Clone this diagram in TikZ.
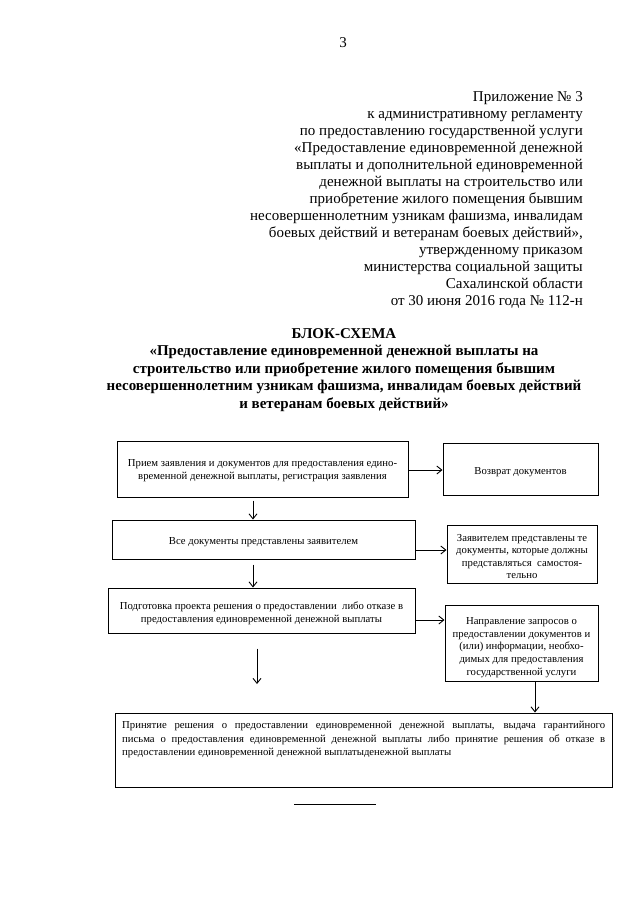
\documentclass[tikz,border=0pt]{standalone}
\usepackage{fontspec}
\setmainfont{Liberation Serif}
\usetikzlibrary{arrows.meta}
\begin{document}
\begin{tikzpicture}[x=1pt,y=-1pt,
  hdr/.style={anchor=base east,inner sep=0pt,font=\fontsize{15}{17}\selectfont},
  ttl/.style={anchor=base,inner sep=0pt,font=\fontsize{15}{17.5}\selectfont\bfseries},
  box/.style={draw,line width=1pt,inner sep=0pt},
  btxt/.style={inner sep=0pt,align=center,font=\fontsize{10.7}{13}\selectfont},
  arr/.style={line width=0.9pt,-{Straight Barb[length=5pt,width=8pt]}}]
\path[fill=white] (0,0) rectangle (640,905);
\useasboundingbox (0,0) rectangle (640,905);
% page number
\node[anchor=base,inner sep=0pt,font=\fontsize{15}{17}\selectfont] (pg) at (343,47) {3};
% header
\node[hdr] (h1) at (583,101) {Приложение № 3};
\node[hdr] (h2) at (583,118) {к административному регламенту};
\node[hdr] (h3) at (583,135) {по предоставлению государственной услуги};
\node[hdr] (h4) at (583,152) {«Предоставление единовременной денежной};
\node[hdr] (h5) at (583,169) {выплаты и дополнительной единовременной};
\node[hdr] (h6) at (583,186) {денежной выплаты на строительство или};
\node[hdr] (h7) at (583,203) {приобретение жилого помещения бывшим};
\node[hdr] (h8) at (583,220) {несовершеннолетним узникам фашизма, инвалидам};
\node[hdr] (h9) at (583,237) {боевых действий и ветеранам боевых действий»,};
\node[hdr] (h10) at (583,254) {утвержденному приказом};
\node[hdr] (h11) at (583,271) {министерства социальной защиты};
\node[hdr] (h12) at (583,288) {Сахалинской области};
\node[hdr] (h13) at (583,305) {от 30 июня 2016 года № 112-н};
% title
\node[ttl] (t1) at (344,338) {БЛОК-СХЕМА};
\node[ttl] (t2) at (344,355.5) {«Предоставление единовременной денежной выплаты на};
\node[ttl] (t3) at (344,373) {строительство или приобретение жилого помещения бывшим};
\node[ttl] (t4) at (344,390.5) {несовершеннолетним узникам фашизма, инвалидам боевых действий};
\node[ttl] (t5) at (344,408) {и ветеранам боевых действий»};
% boxes
\node[box,minimum width=291pt,minimum height=56pt] (b1) at (262.5,469) {};
\node[btxt] (b1t) at ([yshift=-1.5pt]b1.center)
  {Прием заявления и документов для предоставления едино-\\временной денежной выплаты, регистрация заявления};
\node[box,minimum width=155pt,minimum height=52pt] (b1r) at (520.5,469) {};
\node[btxt] (b1rt) at ([yshift=-3.5pt]b1r.center) {Возврат документов};
\node[box,minimum width=303pt,minimum height=39pt] (b2) at (263.5,539.5) {};
\node[btxt] (b2t) at ([yshift=-3pt]b2.center) {Все документы представлены заявителем};
\node[box,minimum width=150pt,minimum height=58pt] (b2r) at (522,554) {};
\node[btxt,font=\fontsize{10.7}{12.6}\selectfont] (b2rt) at ([yshift=-2.5pt]b2r.center)
  {Заявителем представлены те\\документы, которые должны\\представляться\ \ самостоя-\\тельно};
\node[box,minimum width=153pt,minimum height=76pt] (b3r) at (521.5,643) {};
\node[btxt,font=\fontsize{10.7}{12.6}\selectfont] (b3rt) at ([yshift=-4.5pt]b3r.center)
  {Направление запросов о\\предоставлении документов и\\(или) информации, необхо-\\димых для предоставления\\государственной услуги};
\node[box,minimum width=307pt,minimum height=45pt] (b3) at (261.5,610.5) {};
\node[btxt] (b3t) at ([yshift=-2.5pt]b3.center)
  {Подготовка проекта решения о предоставлении\ \ либо отказе в\\предоставления единовременной денежной выплаты};
\node[box,minimum width=497pt,minimum height=74pt] (b5) at (363.5,750) {};
\node[anchor=north west,inner sep=0pt,text width=483pt,align=justify,font=\fontsize{10.7}{13.5}\selectfont] (b5t) at (122,721)
  {Принятие решения о предоставлении единовременной денежной выплаты, выдача гарантийного\linebreak
   письма о предоставления единовременной денежной выплаты либо принятие решения об отказе в\linebreak
   предоставлении единовременной денежной выплатыденежной выплаты};
% coordinates for arrow columns
\coordinate (c1) at (253,0);
\coordinate (c2) at (257,0);
\coordinate (c3) at (535,0);
\coordinate (y1) at (0,470);
\coordinate (y2) at (0,550);
\coordinate (y3) at (0,620);
\coordinate (fe) at (257,684);
% connectors
\draw[arr] (b1.east |- y1) -- (b1r.west |- y1);
\draw[arr] (b2.east |- y2) -- (b2r.west |- y2);
\draw[arr] (b3.east |- y3) -- (b3r.west |- y3);
\draw[arr,shorten <=3pt] (b1.south -| c1) -- (b2.north -| c1);
\draw[arr,shorten <=5pt] (b2.south -| c1) -- (b3.north -| c1);
\draw[arr,shorten <=15pt] (b3.south -| c2) -- (fe);
\draw[arr] (b3r.south -| c3) -- (b5.north -| c3);
% footer rule
\coordinate (fl) at (294,804);
\coordinate (fr) at (376,804);
\draw[line width=1pt] (fl) -- (fr);
\end{tikzpicture}
\end{document}
